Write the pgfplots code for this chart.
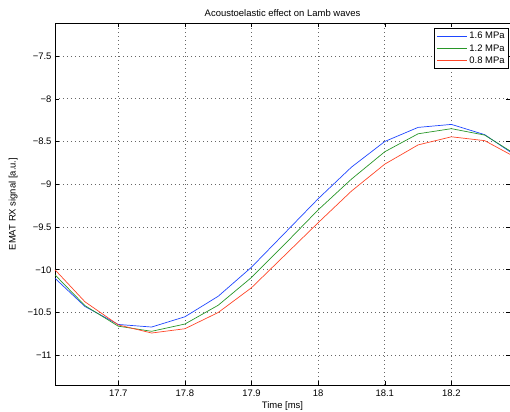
\documentclass[border=0pt]{standalone}
\usepackage{pgfplots}
\pgfplotsset{compat=1.18}
\usepackage{fontspec}
\setmainfont{Liberation Sans}
\definecolor{cblue}{RGB}{30,70,255}
\definecolor{cgreen}{RGB}{40,150,40}
\definecolor{cred}{RGB}{255,70,40}

\begin{document}
\begin{tikzpicture}
\path[use as bounding box] (-55bp,-27bp) rectangle (455bp,385bp);
\begin{axis}[
    scale only axis,
    width=455bp, height=362bp,
    xmin=17.605, xmax=18.288,
    ymin=-11.348, ymax=-7.114,
    xtick={17.7,17.8,17.9,18,18.1,18.2},
    xticklabels={17.7,17.8,17.9,18,18.1,18.2},
    ytick={-11,-10.5,-10,-9.5,-9,-8.5,-8,-7.5},
    yticklabels={−11,−10.5,−10,−9.5,−9,−8.5,−8,−7.5},
    tick align=inside,
    major tick length=4bp,
    tick style={black, line width=0.5pt},
    grid=major,
    major grid style={black!60, line width=0.7pt, dash pattern=on 0.7bp off 3.3bp},
    axis line style={black, line width=0.8pt},
    tick label style={font=\fontsize{9.5}{10}\selectfont},
    xticklabel style={yshift=-1bp},
    title={Acoustoelastic effect on Lamb waves},
    title style={font=\fontsize{9.5}{10}\selectfont, yshift=-3.5bp},
    xlabel={Time [ms]},
    xlabel style={font=\fontsize{9.5}{10}\selectfont, yshift=1bp},
    ylabel={EMAT RX signal [a.u.]},
    ylabel style={font=\fontsize{9.5}{10}\selectfont, yshift=3bp},
    legend style={at={(1,1)}, anchor=north east, xshift=-1bp, yshift=-5bp,
        font=\fontsize{9.5}{10}\selectfont, draw=black, line width=0.8pt,
        inner sep=2pt, row sep=0pt, cells={anchor=west}},
    legend image code/.code={\draw[#1, line width=0.8pt] (0cm,0cm) -- (1.05cm,0cm);},
    every axis plot/.append style={line width=0.7pt},
]
\addplot[color=cblue] coordinates {
(17.605,-10.10) (17.65,-10.43) (17.7,-10.64) (17.75,-10.67) (17.8,-10.55)
(17.85,-10.31) (17.9,-9.97) (17.95,-9.57) (18.0,-9.17) (18.05,-8.80)
(18.1,-8.50) (18.15,-8.335) (18.2,-8.30) (18.25,-8.42) (18.288,-8.62)};
\addlegendentry{1.6 MPa}
\addplot[color=cgreen] coordinates {
(17.605,-10.06) (17.65,-10.42) (17.7,-10.66) (17.75,-10.72) (17.8,-10.635)
(17.85,-10.415) (17.9,-10.09) (17.95,-9.70) (18.0,-9.30) (18.05,-8.94)
(18.1,-8.62) (18.15,-8.41) (18.2,-8.35) (18.25,-8.425) (18.288,-8.61)};
\addlegendentry{1.2 MPa}
\addplot[color=cred] coordinates {
(17.605,-10.00) (17.65,-10.375) (17.7,-10.645) (17.75,-10.74) (17.8,-10.69)
(17.85,-10.50) (17.9,-10.21) (17.95,-9.83) (18.0,-9.45) (18.05,-9.08)
(18.1,-8.765) (18.15,-8.54) (18.2,-8.445) (18.25,-8.49) (18.288,-8.65)};
\addlegendentry{0.8 MPa}
\end{axis}
\end{tikzpicture}
\end{document}
